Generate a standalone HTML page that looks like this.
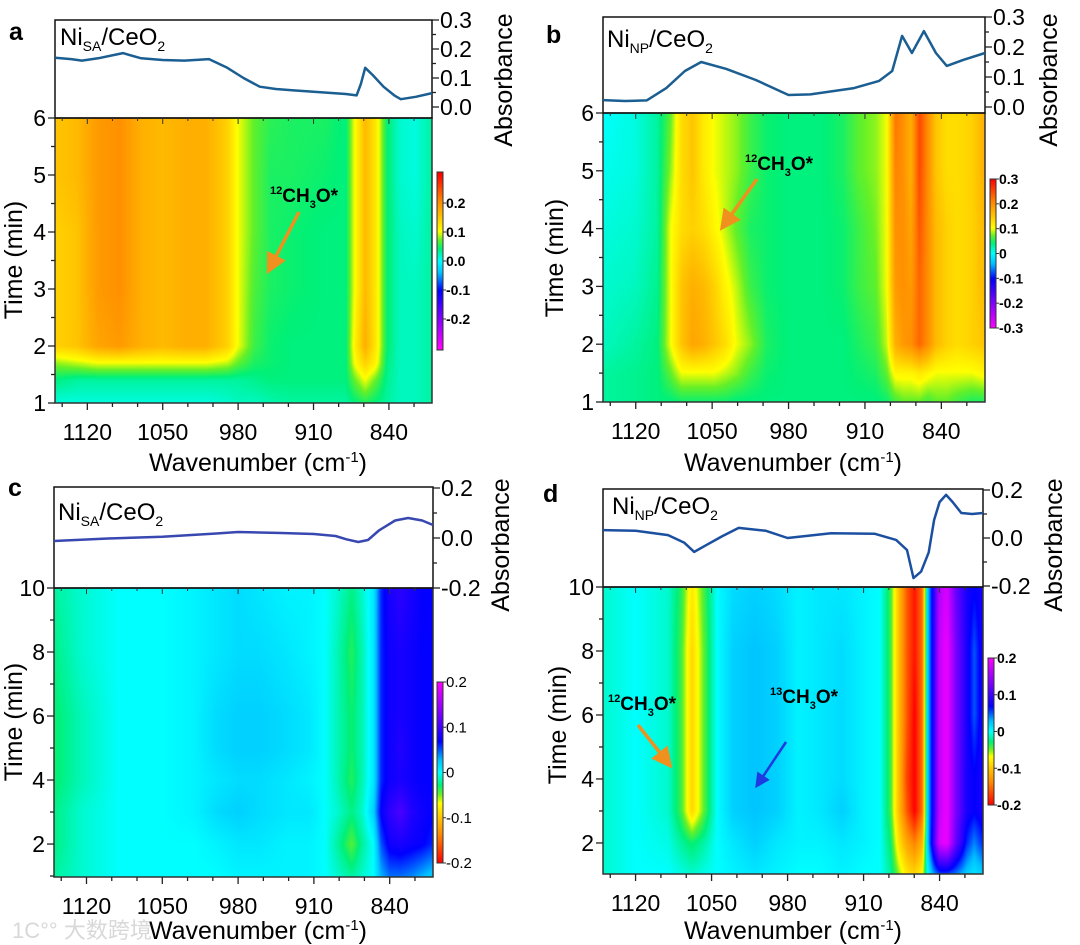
<!DOCTYPE html>
<html><head><meta charset="utf-8">
<style>
html,body{margin:0;padding:0;background:#fff;}
#root{position:relative;width:1080px;height:945px;overflow:hidden;background:#fff;font-family:"Liberation Sans",Arial,sans-serif;}
canvas{position:absolute;}
svg{position:absolute;left:0;top:0;}
</style></head>
<body>
<div id="root">
<canvas id="hmA"></canvas>
<canvas id="hmB"></canvas>
<canvas id="hmC"></canvas>
<canvas id="hmD"></canvas>
<canvas id="cbA"></canvas>
<canvas id="cbB"></canvas>
<canvas id="cbC"></canvas>
<canvas id="cbD"></canvas>
<svg id="ov" width="1080" height="945" font-family="Liberation Sans, Arial, sans-serif">
  <defs>
    <marker id="ahO" markerWidth="6" markerHeight="6" refX="4" refY="3" orient="auto"><path d="M0,0 L6,3 L0,6 z" fill="#f0901e"/></marker>
    <marker id="ahB" markerWidth="6" markerHeight="6" refX="4" refY="3" orient="auto"><path d="M0,0 L6,3 L0,6 z" fill="#1e3ae0"/></marker>
  </defs>
  <g id="g"></g>
  <text x="9" y="40" font-size="25" font-weight="bold">a</text>
  <text x="546" y="43" font-size="25" font-weight="bold">b</text>
  <text x="8" y="496" font-size="25" font-weight="bold">c</text>
  <text x="543" y="502" font-size="25" font-weight="bold">d</text>
  <text x="60" y="45" font-size="24">Ni<tspan font-size="14" dy="6">SA</tspan><tspan dy="-6">/CeO</tspan><tspan font-size="14" dy="6">2</tspan></text>
  <text x="607" y="47" font-size="24">Ni<tspan font-size="14" dy="6">NP</tspan><tspan dy="-6">/CeO</tspan><tspan font-size="14" dy="6">2</tspan></text>
  <text x="58" y="520" font-size="24">Ni<tspan font-size="14" dy="6">SA</tspan><tspan dy="-6">/CeO</tspan><tspan font-size="14" dy="6">2</tspan></text>
  <text x="612" y="514" font-size="24">Ni<tspan font-size="14" dy="6">NP</tspan><tspan dy="-6">/CeO</tspan><tspan font-size="14" dy="6">2</tspan></text>
  <text x="258" y="471" font-size="25" text-anchor="middle">Wavenumber (cm<tspan font-size="15" dy="-9">-1</tspan><tspan dy="9">)</tspan></text>
  <text x="793" y="471" font-size="25" text-anchor="middle">Wavenumber (cm<tspan font-size="15" dy="-9">-1</tspan><tspan dy="9">)</tspan></text>
  <text x="258" y="939" font-size="25" text-anchor="middle">Wavenumber (cm<tspan font-size="15" dy="-9">-1</tspan><tspan dy="9">)</tspan></text>
  <text x="793" y="939" font-size="25" text-anchor="middle">Wavenumber (cm<tspan font-size="15" dy="-9">-1</tspan><tspan dy="9">)</tspan></text>
  <text transform="translate(22,260) rotate(-90)" font-size="25" text-anchor="middle">Time (min)</text>
  <text transform="translate(563,258) rotate(-90)" font-size="25" text-anchor="middle">Time (min)</text>
  <text transform="translate(22,722) rotate(-90)" font-size="25" text-anchor="middle">Time (min)</text>
  <text transform="translate(566,725) rotate(-90)" font-size="25" text-anchor="middle">Time (min)</text>
  <text transform="translate(512,80) rotate(-90)" font-size="25" text-anchor="middle">Absorbance</text>
  <text transform="translate(1057,80) rotate(-90)" font-size="25" text-anchor="middle">Absorbance</text>
  <text transform="translate(509,545) rotate(-90)" font-size="25" text-anchor="middle">Absorbance</text>
  <text transform="translate(1062,545) rotate(-90)" font-size="25" text-anchor="middle">Absorbance</text>
  <text x="270" y="202" font-size="19" font-weight="bold"><tspan font-size="11" dy="-8">12</tspan><tspan dy="8">CH</tspan><tspan font-size="11" dy="6">3</tspan><tspan dy="-6">O*</tspan></text>
  <line x1="299" y1="212" x2="270" y2="268" stroke="#f0901e" stroke-width="3.5" marker-end="url(#ahO)"/>
  <text x="745" y="170" font-size="19" font-weight="bold"><tspan font-size="11" dy="-8">12</tspan><tspan dy="8">CH</tspan><tspan font-size="11" dy="6">3</tspan><tspan dy="-6">O*</tspan></text>
  <line x1="757" y1="179" x2="724" y2="225" stroke="#f0901e" stroke-width="3.5" marker-end="url(#ahO)"/>
  <text x="608" y="710" font-size="19" font-weight="bold"><tspan font-size="11" dy="-8">12</tspan><tspan dy="8">CH</tspan><tspan font-size="11" dy="6">3</tspan><tspan dy="-6">O*</tspan></text>
  <line x1="638" y1="725" x2="668" y2="763" stroke="#f0901e" stroke-width="3.5" marker-end="url(#ahO)"/>
  <text x="770" y="703" font-size="19" font-weight="bold"><tspan font-size="11" dy="-8">13</tspan><tspan dy="8">CH</tspan><tspan font-size="11" dy="6">3</tspan><tspan dy="-6">O*</tspan></text>
  <line x1="786" y1="742" x2="758" y2="784" stroke="#1e3ae0" stroke-width="2.5" marker-end="url(#ahB)"/>
  <text x="12" y="938" font-size="22" fill="#d8d8d8">1C°° 大数跨境</text>
</svg>
</div>
<script>
// ---------- DATA ----------
const colsA = [1150,1130,1110,1090,1070,1050,1030,1010,990,980,965,950,930,900,880,872,862,852,842,830,815,800];
const rowsA = [1,1.4,1.7,2,3,4,5,6];
const zA = [
 [0.01,0.01,0.01,0.01,0.01,0.01,0.01,0.01,0.015,0.02,0.02,0.025,0.03,0.03,0.03,0.04,0.05,0.04,0.03,0.02,0.02,0.03],
 [0.04,0.03,0.03,0.03,0.03,0.03,0.03,0.03,0.03,0.03,0.035,0.04,0.04,0.04,0.04,0.07,0.10,0.07,0.035,0.02,0.02,0.03],
 [0.08,0.09,0.10,0.10,0.10,0.10,0.10,0.10,0.09,0.07,0.05,0.045,0.04,0.04,0.04,0.10,0.14,0.11,0.04,0.02,0.02,0.03],
 [0.14,0.15,0.18,0.19,0.17,0.16,0.17,0.17,0.14,0.10,0.06,0.045,0.04,0.04,0.04,0.11,0.17,0.12,0.045,0.02,0.02,0.03],
 [0.14,0.15,0.19,0.20,0.17,0.16,0.17,0.17,0.14,0.10,0.065,0.05,0.045,0.04,0.04,0.10,0.16,0.12,0.045,0.02,0.02,0.03],
 [0.14,0.15,0.19,0.20,0.17,0.16,0.17,0.17,0.14,0.10,0.07,0.05,0.045,0.04,0.04,0.10,0.16,0.12,0.045,0.02,0.015,0.03],
 [0.15,0.16,0.19,0.20,0.17,0.16,0.17,0.17,0.14,0.10,0.07,0.05,0.05,0.045,0.04,0.10,0.16,0.12,0.045,0.015,0.01,0.03],
 [0.15,0.16,0.19,0.20,0.17,0.16,0.17,0.17,0.14,0.10,0.07,0.055,0.05,0.05,0.04,0.10,0.16,0.12,0.045,0.015,0.01,0.03]
];
const colsB = [1150,1120,1100,1088,1078,1068,1058,1048,1038,1028,1015,1000,980,950,930,915,900,890,882,875,868,860,852,845,835,825,812,800];
const rowsB = [1,1.5,2,3,4,5,6];
const zB = [
 [0.03,0.035,0.04,0.04,0.045,0.045,0.045,0.045,0.045,0.04,0.04,0.04,0.04,0.04,0.04,0.04,0.04,0.045,0.06,0.07,0.07,0.07,0.06,0.07,0.07,0.06,0.05,0.05],
 [0.03,0.035,0.04,0.07,0.10,0.10,0.10,0.10,0.09,0.08,0.06,0.045,0.04,0.04,0.04,0.045,0.05,0.07,0.11,0.11,0.11,0.12,0.11,0.10,0.10,0.10,0.10,0.11],
 [0.02,0.03,0.04,0.10,0.15,0.18,0.17,0.15,0.13,0.10,0.08,0.05,0.04,0.04,0.04,0.05,0.06,0.09,0.17,0.19,0.20,0.23,0.20,0.16,0.14,0.13,0.14,0.15],
 [0.015,0.02,0.035,0.10,0.15,0.17,0.16,0.14,0.11,0.09,0.06,0.045,0.04,0.04,0.045,0.06,0.07,0.10,0.19,0.20,0.19,0.23,0.20,0.16,0.14,0.13,0.14,0.16],
 [0.01,0.015,0.03,0.10,0.13,0.14,0.13,0.11,0.09,0.07,0.05,0.045,0.04,0.04,0.045,0.06,0.075,0.10,0.20,0.20,0.18,0.24,0.20,0.16,0.14,0.13,0.14,0.16],
 [0.005,0.01,0.03,0.08,0.13,0.15,0.12,0.10,0.09,0.08,0.06,0.045,0.04,0.04,0.05,0.07,0.08,0.10,0.21,0.20,0.17,0.25,0.20,0.15,0.13,0.13,0.14,0.17],
 [0.0,0.01,0.03,0.07,0.13,0.15,0.12,0.10,0.09,0.08,0.06,0.045,0.04,0.04,0.05,0.07,0.08,0.10,0.22,0.20,0.17,0.25,0.20,0.15,0.13,0.13,0.14,0.17]
];
const colsC = [1150,1125,1090,1050,1020,1000,980,960,935,915,900,888,875,865,855,848,840,830,820,810,800];
const rowsC = [1,2,3,4,5,6,8,10];
const zC = [
 [-0.02,-0.01,0.0,0.0,0.0,0.0,0.005,0.005,0.005,0.005,0.0,-0.01,-0.02,-0.01,0.0,0.03,0.045,0.045,0.04,0.03,0.02],
 [-0.025,-0.01,0.0,0.0,0.0,0.005,0.01,0.01,0.005,0.005,0.0,-0.02,-0.045,-0.02,0.0,0.05,0.075,0.08,0.075,0.07,0.06],
 [-0.025,-0.01,0.0,0.0,0.005,0.015,0.02,0.015,0.01,0.01,0.0,-0.01,-0.025,-0.01,0.02,0.07,0.09,0.105,0.085,0.075,0.07],
 [-0.03,-0.015,0.0,0.0,0.005,0.01,0.015,0.015,0.01,0.005,0.0,-0.015,-0.035,-0.015,0.01,0.06,0.075,0.08,0.075,0.07,0.07],
 [-0.03,-0.015,0.0,0.0,0.005,0.015,0.02,0.02,0.015,0.01,0.0,-0.015,-0.03,-0.015,0.01,0.06,0.075,0.085,0.075,0.07,0.07],
 [-0.03,-0.015,0.0,0.0,0.005,0.015,0.02,0.02,0.015,0.01,0.0,-0.015,-0.03,-0.015,0.01,0.06,0.075,0.08,0.075,0.07,0.07],
 [-0.025,-0.01,0.0,0.0,0.005,0.01,0.015,0.015,0.01,0.005,0.0,-0.015,-0.035,-0.015,0.01,0.06,0.075,0.08,0.075,0.07,0.07],
 [-0.02,-0.01,0.0,0.0,0.005,0.01,0.015,0.01,0.005,0.005,0.0,-0.01,-0.025,-0.01,0.01,0.06,0.08,0.09,0.08,0.07,0.07]
];
const colsD = [1150,1120,1090,1078,1068,1058,1045,1030,1010,990,970,950,930,910,895,885,878,870,863,856,851,846,840,833,825,815,808,800];
const rowsD = [1,2,3,4,6,8,10];
const zD = [
 [-0.01,0.0,0.0,-0.005,-0.01,-0.005,0.0,0.005,0.01,0.005,0.0,0.0,0.005,0.0,0.0,-0.02,-0.05,-0.08,-0.09,-0.07,0.0,0.03,0.05,0.05,0.04,0.02,0.01,0.02],
 [-0.01,0.0,-0.005,-0.02,-0.03,-0.02,0.0,0.01,0.02,0.01,0.005,0.005,0.01,0.005,0.0,-0.03,-0.08,-0.12,-0.14,-0.11,0.02,0.09,0.18,0.19,0.12,0.06,0.04,0.06],
 [-0.01,0.0,-0.01,-0.04,-0.09,-0.05,0.0,0.02,0.025,0.02,0.005,0.01,0.02,0.005,0.0,-0.04,-0.10,-0.16,-0.20,-0.15,0.02,0.08,0.17,0.19,0.13,0.08,0.07,0.08],
 [-0.01,0.0,-0.01,-0.04,-0.09,-0.05,0.0,0.02,0.025,0.02,0.005,0.01,0.015,0.005,0.0,-0.04,-0.10,-0.17,-0.20,-0.15,0.02,0.08,0.17,0.19,0.13,0.08,0.07,0.08],
 [-0.01,0.0,-0.01,-0.04,-0.09,-0.05,0.0,0.02,0.025,0.02,0.005,0.01,0.015,0.005,0.0,-0.04,-0.10,-0.16,-0.20,-0.15,0.02,0.08,0.17,0.19,0.13,0.08,0.05,0.08],
 [-0.01,0.0,-0.01,-0.04,-0.09,-0.05,0.0,0.02,0.025,0.02,0.005,0.01,0.015,0.005,0.0,-0.04,-0.10,-0.16,-0.19,-0.15,0.02,0.08,0.17,0.19,0.13,0.08,0.05,0.08],
 [-0.01,0.0,-0.01,-0.035,-0.08,-0.045,0.0,0.015,0.02,0.015,0.005,0.01,0.01,0.005,0.0,-0.04,-0.10,-0.16,-0.19,-0.15,0.02,0.08,0.16,0.18,0.12,0.08,0.07,0.08]
];
const specWnA = [1150,1135,1125,1110,1087,1070,1050,1030,1007,990,975,960,945,930,900,880,870,866,862,855,845,835,829,815,800];
const specAbA = [0.17,0.165,0.16,0.168,0.186,0.168,0.162,0.16,0.165,0.135,0.10,0.07,0.062,0.058,0.05,0.045,0.04,0.08,0.135,0.11,0.07,0.04,0.027,0.035,0.048];
const specWnB = [1150,1130,1110,1092,1075,1060,1037,1010,980,960,920,897,885,876,867,856,845,835,820,800];
const specAbB = [0.023,0.02,0.022,0.063,0.12,0.15,0.127,0.09,0.04,0.042,0.063,0.087,0.12,0.237,0.18,0.253,0.18,0.137,0.157,0.18];
const specWnC = [1150,1100,1050,1000,980,940,910,890,880,869,860,850,835,823,810,800];
const specAbC = [-0.012,-0.002,0.005,0.018,0.024,0.02,0.016,0.008,-0.005,-0.016,-0.008,0.03,0.07,0.08,0.07,0.052];
const specWnD = [1150,1120,1090,1075,1066,1055,1040,1025,1000,980,940,900,880,870,864,857,850,845,840,834,828,820,810,800];
const specAbD = [0.033,0.03,0.012,-0.02,-0.058,-0.03,0.008,0.042,0.03,0.0,0.02,0.018,-0.008,-0.05,-0.167,-0.14,-0.06,0.075,0.15,0.18,0.15,0.104,0.1,0.104];

// ---------- RENDER ----------
const stops=[[0,[255,0,255]],[0.17,[128,0,255]],[0.33,[0,0,255]],[0.43,[0,190,255]],[0.5,[0,255,255]],[0.57,[0,240,120]],[0.62,[100,240,40]],[0.67,[255,255,0]],[0.76,[255,190,0]],[0.84,[255,140,0]],[1,[255,0,0]]];
function cmap(t){t=Math.max(0,Math.min(1,t));for(let i=1;i<stops.length;i++){if(t<=stops[i][0]){const a=stops[i-1],b=stops[i];const f=(t-a[0])/(b[0]-a[0]);return [0,1,2].map(k=>Math.round(a[1][k]+(b[1][k]-a[1][k])*f));}}return stops[stops.length-1][1];}
const tAB=v=>(v+0.3)/0.6, tCD=v=>(0.2-v)/0.4;
const P={
 A:{x0:55,x1:432,y0:118,y1:403,sy:20,tMin:1,tMax:6,ab0:107,abS:290,abTicks:[0,0.1,0.2,0.3],cols:colsA,rows:rowsA,z:zA,tf:tAB,sw:specWnA,sa:specAbA,tMaj:1,col:"#1b5e92",cb:[437,172,6,178],cbR:[-0.307,0.307],cbL:["0.2","0.1","0.0","-0.1","-0.2"],cbV:[0.2,0.1,0,-0.1,-0.2],cbBold:true},
 B:{x0:603,x1:985,y0:113,y1:402,sy:17,tMin:1,tMax:6,ab0:107,abS:300,abTicks:[0,0.1,0.2,0.3],cols:colsB,rows:rowsB,z:zB,tf:tAB,sw:specWnB,sa:specAbB,tMaj:1,col:"#1b5e92",cb:[990,179,6,149],cbR:[-0.3,0.3],cbL:["0.3","0.2","0.1","0","-0.1","-0.2","-0.3"],cbV:[0.3,0.2,0.1,0,-0.1,-0.2,-0.3],cbBold:true},
 C:{x0:54,x1:433,y0:588,y1:877,sy:487,tMin:0.97,tMax:10,ab0:538,abS:250,abTicks:[-0.2,0,0.2],cols:colsC,rows:rowsC,z:zC,tf:tCD,sw:specWnC,sa:specAbC,tMaj:2,col:"#3848b0",cb:[437,682,6,181],cbR:[-0.2,0.2],cbL:["0.2","0.1","0","-0.1","-0.2"],cbV:[0.2,0.1,0,-0.1,-0.2],cbBold:false},
 D:{x0:603,x1:983,y0:587,y1:874,sy:489,tMin:1.03,tMax:10,ab0:538,abS:240,abTicks:[-0.2,0,0.2],cols:colsD,rows:rowsD,z:zD,tf:tCD,sw:specWnD,sa:specAbD,tMaj:2,col:"#1b4fa0",cb:[988,658,6,147],cbR:[-0.2,0.2],cbL:["0.2","0.1","0","-0.1","-0.2"],cbV:[0.2,0.1,0,-0.1,-0.2],cbBold:true}
};
const WMAX=1150,WMIN=800;
function seg(arr,v,desc){for(let i=0;i<arr.length-1;i++){const a=arr[i],b=arr[i+1];if(desc?(v<=a&&v>=b):(v>=a&&v<=b))return [i,(v-a)/(b-a)];}return desc?(v>arr[0]?[0,0]:[arr.length-2,1]):(v<arr[0]?[0,0]:[arr.length-2,1]);}
const NS="http://www.w3.org/2000/svg";
const g=document.getElementById('g');
function mk(tag,at){const e=document.createElementNS(NS,tag);for(const k in at)e.setAttribute(k,at[k]);g.appendChild(e);return e;}

for(const key of ['A','B','C','D']){
 const p=P[key];const W=p.x1-p.x0,H=p.y1-p.y0;
 const xs=w=>p.x0+(WMAX-w)/(WMAX-WMIN)*W;
 const ys=t=>p.y1-(t-p.tMin)/(p.tMax-p.tMin)*H;
 const as=a=>p.ab0-a*p.abS;
 const cv=document.getElementById('hm'+key);cv.width=W;cv.height=H;cv.style.left=p.x0+'px';cv.style.top=p.y0+'px';
 const ctx=cv.getContext('2d');const img=ctx.createImageData(W,H);
 for(let py=0;py<H;py++){const t=p.tMax-(py+0.5)/H*(p.tMax-p.tMin);const [ri,rf]=seg(p.rows,t,false);
  for(let px=0;px<W;px++){const w=WMAX-(px+0.5)/W*(WMAX-WMIN);const [ci,cf]=seg(p.cols,w,true);
   const z=p.z;const v=(z[ri][ci]*(1-cf)+z[ri][ci+1]*cf)*(1-rf)+(z[ri+1][ci]*(1-cf)+z[ri+1][ci+1]*cf)*rf;
   const c=cmap(p.tf(v));const o=(py*W+px)*4;img.data[o]=c[0];img.data[o+1]=c[1];img.data[o+2]=c[2];img.data[o+3]=255;}}
 ctx.putImageData(img,0,0);
 const [cx,cy,cw,ch]=p.cb;const cb=document.getElementById('cb'+key);cb.width=cw;cb.height=ch;cb.style.left=cx+'px';cb.style.top=cy+'px';
 const c2=cb.getContext('2d');
 for(let py=0;py<ch;py++){const v=p.cbR[1]-(py+0.5)/ch*(p.cbR[1]-p.cbR[0]);const c=cmap(p.tf(v));c2.fillStyle=`rgb(${c[0]},${c[1]},${c[2]})`;c2.fillRect(0,py,cw,1);}
 const cbf=mk('rect',{x:cx,y:cy,width:cw,height:ch,fill:'none',stroke:'#333','stroke-width':1});
 
 
 p.cbV.forEach((v,i)=>{const y=cy+(p.cbR[1]-v)/(p.cbR[1]-p.cbR[0])*ch;
  const tk=mk('line',{x1:cx+cw,x2:cx+cw+3,y1:y,y2:y,stroke:'#333'});
  
  
  const tl=mk('text',{x:cx+cw+3,y:y+5,'font-size':p.cbBold?14:15,'font-weight':p.cbBold?'bold':'normal'});tl.textContent=p.cbL[i];
  
  
 });
 const hf=mk('rect',{x:p.x0,y:p.y0,width:W,height:H,fill:'none',stroke:'#333','stroke-width':1.5});
 
 
 const sb=mk('rect',{x:p.x0,y:p.sy,width:W,height:p.y0-p.sy,fill:'none',stroke:'#111','stroke-width':1.5});
 
 
 const pts=p.sw.map((w,i)=>xs(w).toFixed(1)+','+as(p.sa[i]).toFixed(1)).join(' ');
 const sl=mk('polyline',{points:pts,fill:'none',stroke:p.col,'stroke-width':2.5,'stroke-linejoin':'round'});
 
 
 for(let w=1143.33;w>WMIN;w-=70/3){const x=xs(w);const maj=Math.abs((w-840)%70)<0.5||Math.abs((w-840)%70-70)<0.5;
  const tk=mk('line',{x1:x,x2:x,y1:p.y1,y2:p.y1+(maj?7:4),stroke:'#222','stroke-width':1.3});
  
  
  const tt=mk('line',{x1:x,x2:x,y1:p.y0,y2:p.y0+(maj?6:3),stroke:'#333','stroke-width':1});
  
  
  if(maj){const lb=mk('text',{x:x,y:p.y1+37,'font-size':23,'text-anchor':'middle'});lb.textContent=Math.round(w);
   
   }
 }
 const minor=p.tMaj/2;
 for(let t=Math.ceil(p.tMin/minor)*minor;t<=p.tMax+0.001;t+=minor){const y=ys(t);const maj=Math.abs(t/p.tMaj-Math.round(t/p.tMaj))<0.01;
  const tk=mk('line',{x1:p.x0-(maj?7:4),x2:p.x0,y1:y,y2:y,stroke:'#222','stroke-width':1.3});
  
  
  if(maj){const lb=mk('text',{x:p.x0-9,y:y+8,'font-size':23,'text-anchor':'end'});lb.textContent=Math.round(t);
   
   }
 }
 const st=p.abTicks[1]-p.abTicks[0];
 for(let a=p.abTicks[0];a<=p.abTicks[p.abTicks.length-1]+1e-6;a+=st/2){const y=as(a);const maj=p.abTicks.some(v=>Math.abs(v-a)<1e-6);
  const tk=mk('line',{x1:p.x1,x2:p.x1+(maj?7:4),y1:y,y2:y,stroke:'#222','stroke-width':1.3});
  
  
  if(maj){const lb=mk('text',{x:p.x1+8,y:y+8,'font-size':23});lb.textContent=(Math.abs(a)<1e-6?'0.0':a.toFixed(1));
   
   }
 }
}
</script>
</body></html>
